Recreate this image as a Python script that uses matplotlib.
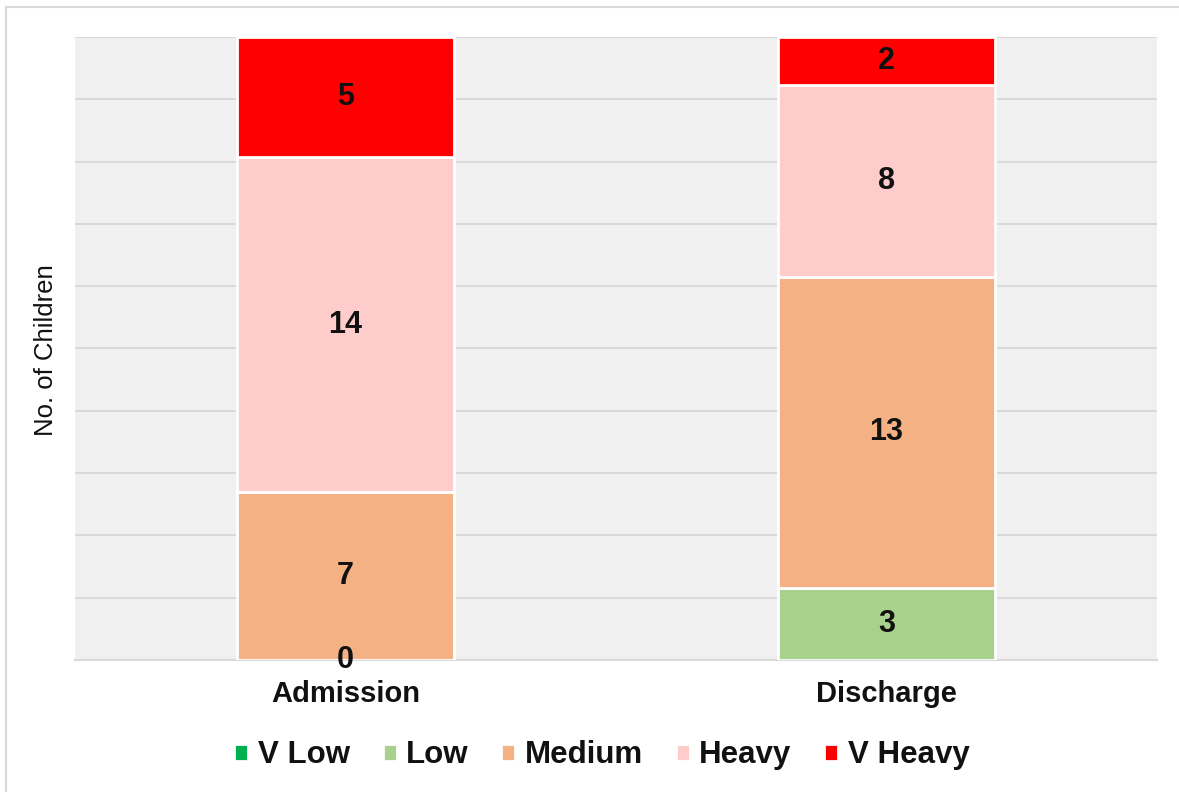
import numpy as np
from matplotlib import pyplot as plt
from matplotlib.lines import Line2D

plt.rcParams['font.family'] = ['Liberation Sans', 'DejaVu Sans']

categories = ['Admission', 'Discharge']
series = ['V Low', 'Low', 'Medium', 'Heavy', 'V Heavy']
v_low = [0, 0]
low = [0, 3]
medium = [7, 13]
heavy = [14, 8]
v_heavy = [5, 2]
colors = ['#00B050', '#A9D18E', '#F4B183', '#FFCCCC', '#FF0000']
# which series carry data labels (V Low has none in the original)
labelled = [False, True, True, True, True]

fig = plt.figure(figsize=(11.79, 7.92), dpi=100)
ax = fig.add_axes([0.0636, 0.1667, 0.9177, 0.7866])
ax.set_facecolor('#F0F0F0')

x = np.arange(len(categories))
bottom = np.zeros(len(categories))
for name, vals, col, lab in zip(series, [v_low, low, medium, heavy, v_heavy], colors, labelled):
    vals = np.array(vals, dtype=float)
    ax.bar(x, vals, 0.4, bottom=bottom, color=col, edgecolor='white',
           linewidth=2, label=name, zorder=3)
    if lab:
        for xi, b, v in zip(x, bottom, vals):
            if v == 0 and xi != 0:
                continue
            ax.text(xi, b + v / 2, f'{v:.0f}', ha='center', va='center',
                    fontsize=22, fontweight='bold', color='#111111', zorder=4)
    bottom += vals

ax.set_xlim(-0.5, 1.5)
ax.set_ylim(0, 26)
ax.set_yticks(np.linspace(0, 26, 11))
ax.yaxis.grid(True, color='#D9D9D9', linewidth=1.5, zorder=0)
ax.set_axisbelow(True)
ax.tick_params(axis='y', left=False, labelleft=False)
ax.tick_params(axis='x', bottom=False, pad=11)
ax.set_xticks(x)
ax.set_xticklabels(categories, fontsize=21, fontweight='bold', color='#111111')
for s in ['top', 'right', 'left']:
    ax.spines[s].set_visible(False)
ax.spines['bottom'].set_color('#D9D9D9')
ax.spines['bottom'].set_linewidth(1.5)
ax.set_ylabel('No. of Children', fontsize=18.5, color='#111111')
ax.yaxis.set_label_coords(-0.0157, 0.497)

ax.legend(loc='center', bbox_to_anchor=(0.487, -0.153), ncol=5, frameon=False,
          handlelength=0.45, handleheight=0.45, handletextpad=0.3, columnspacing=1.05,
          prop={'size': 22.5, 'weight': 'bold'}, labelcolor='#111111')

# light outer frame of the chart
fig.add_artist(Line2D([6 / 1179, 1], [1 - 7 / 792, 1 - 7 / 792], color='#D9D9D9', lw=1.5))
fig.add_artist(Line2D([6 / 1179, 6 / 1179], [0, 1 - 7 / 792], color='#D9D9D9', lw=1.5))

fig.savefig('out.png', dpi=100)
